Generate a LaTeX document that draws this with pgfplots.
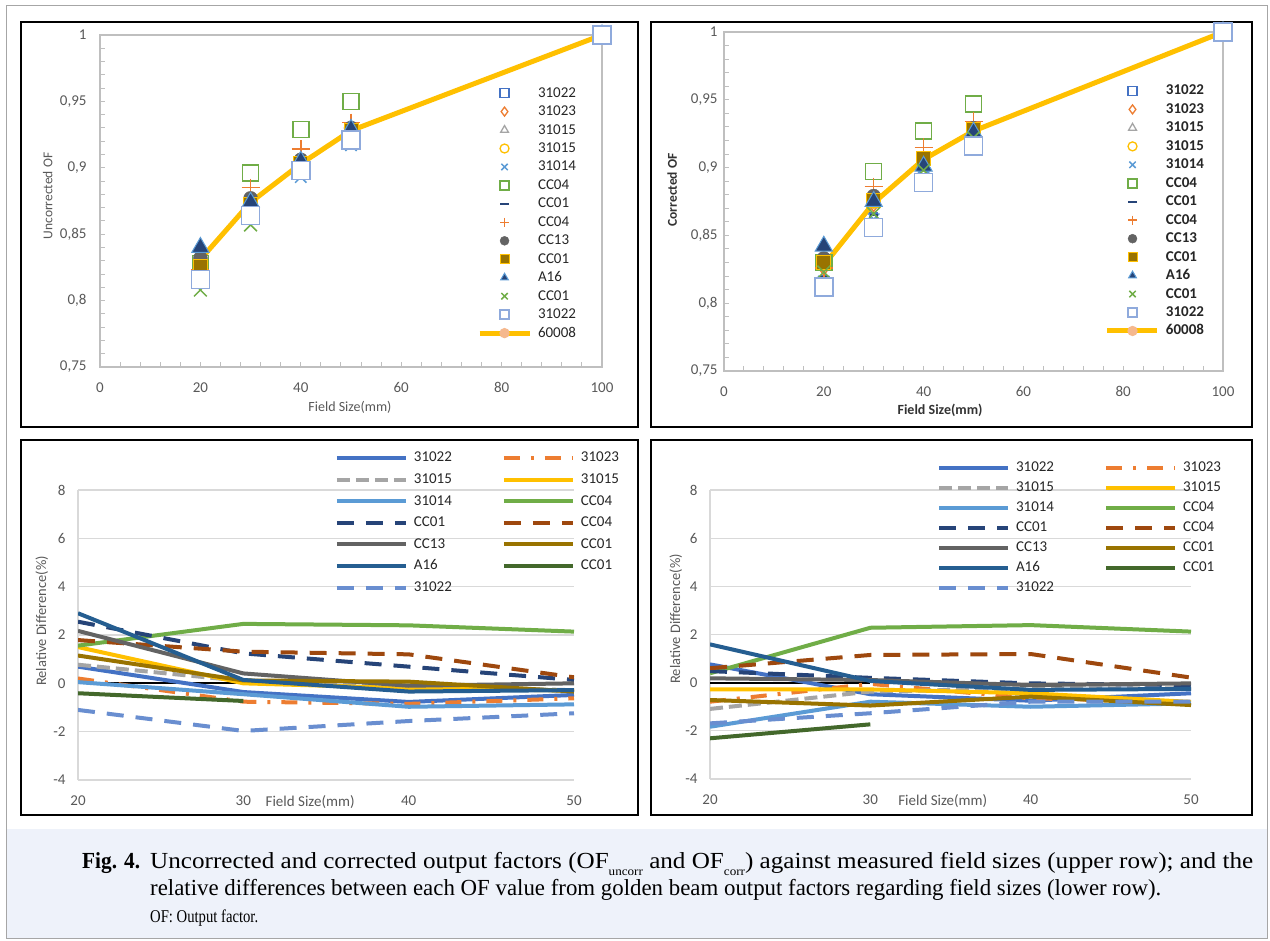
\documentclass[border=0pt]{standalone}
\usepackage{pgfplots}
\pgfplotsset{compat=1.18}
\usepackage{graphicx}
\usepackage{fontspec}
\setmainfont{Carlito}
\newfontfamily\capfont{Liberation Serif}

\definecolor{cA}{HTML}{4472C4}
\definecolor{cB}{HTML}{ED7D31}
\definecolor{cC}{HTML}{A5A5A5}
\definecolor{cD}{HTML}{FFC000}
\definecolor{cE}{HTML}{5B9BD5}
\definecolor{cF}{HTML}{70AD47}
\definecolor{cG}{HTML}{264478}
\definecolor{cH}{HTML}{9E480E}
\definecolor{cI}{HTML}{636363}
\definecolor{cJ}{HTML}{997300}
\definecolor{cK}{HTML}{255E91}
\definecolor{cL}{HTML}{43682B}
\definecolor{cM}{HTML}{698ED0}
\definecolor{sqlt}{HTML}{8FAADC}
\definecolor{gridc}{HTML}{D9D9D9}
\definecolor{axc}{HTML}{BFBFBF}
\definecolor{txt}{HTML}{595959}
\definecolor{capbg}{HTML}{EEF2FA}

\pgfplotsset{
  topax/.style={
    scale only axis, clip=false,
    xmin=0, xmax=100, ymin=0.75, ymax=1,
    xtick={0,20,40,60,80,100}, ytick={0.75,0.8,0.85,0.9,0.95,1},
    minor x tick num=4, minor y tick num=4,
    xtick pos=left, ytick pos=left,
    tick align=inside, major tick length=5pt, minor tick length=5pt,
    tick style={axc, line width=1pt},
    axis line style={axc, line width=1.5pt},
    ticklabel style={font=\fontsize{15}{18}\selectfont, text=txt},
    /pgf/number format/use comma, /pgf/number format/assume math mode=true,
    xticklabel style={yshift=-12pt},
    legend cell align=left,
    legend style={draw=none, fill=none, inner sep=0pt, outer sep=0pt, anchor=north west,
      font=\fontsize{15}{18}\selectfont, text=black!85,
      nodes={inner sep=1pt, text height=11pt, text depth=3pt},
      row sep=2.46pt,
      /tikz/every odd column/.append style={column sep=5pt}},
    legend image post style={mark size=4.5pt},
  },
  botax/.style={
    scale only axis,
    xmin=20, xmax=50, ymin=-4, ymax=8,
    xtick={20,30,40,50}, ytick={-4,-2,0,2,4,6,8},
    ymajorgrids, grid style={gridc, line width=1.3pt},
    axis lines*=left, x axis line style={draw=none}, y axis line style={gridc, line width=1.5pt},
    major tick length=0pt,
    ticklabel style={font=\fontsize{15}{18}\selectfont, text=txt},
    /pgf/number format/assume math mode=true,
    yticklabel style={xshift=-9pt}, xticklabel style={yshift=-12pt},
    legend columns=2, legend cell align=left,
    legend style={draw=none, fill=none, inner sep=0pt, outer sep=0pt, anchor=north west,
      font=\fontsize{15}{18}\selectfont, text=black!85,
      nodes={inner sep=1pt, text height=11pt, text depth=3pt},
      /tikz/every odd column/.append style={column sep=5pt},
      /tikz/every even column/.append style={column sep=49pt}},
    legend image code/.code={\draw[#1] (0pt,0pt) -- (69pt,0pt);},
    every axis plot/.append style={line width=4pt},
    xlabel style={font=\fontsize{15}{18}\selectfont, text=txt, anchor=center},
    ylabel style={font=\fontsize{14.5}{17}\selectfont, text=txt, anchor=center},
  },
  lgline/.style={legend image code/.code={\draw[#1] (-16.5pt,0pt) -- (33.5pt,0pt); \fill[cB!55!white] (8.54pt,0pt) circle (2.5pt);}},
  dd/.style={dash pattern=on 16pt off 11pt on 3pt off 11pt},
  gd/.style={dash pattern=on 13pt off 6pt},
  ld/.style={dash pattern=on 17pt off 12pt},
}

\begin{document}
\begin{tikzpicture}
\useasboundingbox (0,0) rectangle (1270pt,-941pt);
\fill[white] (0,0) rectangle (1270pt,-941pt);
\fill[capbg] (6pt,-829pt) rectangle (1267pt,-938pt);
\draw[gray!70, line width=1pt] (6pt,-6pt) rectangle (1267pt,-938pt);
\draw[black, line width=2.5pt] (21pt,-22pt) rectangle (638pt,-427pt);
\draw[black, line width=2.5pt] (651pt,-22pt) rectangle (1252pt,-427pt);
\draw[black, line width=2.5pt] (21pt,-440pt) rectangle (638pt,-815pt);
\draw[black, line width=2.5pt] (651pt,-440pt) rectangle (1252pt,-815pt);

% ---------------- top left: uncorrected OF
\begin{axis}[topax, at={(100pt,-367pt)}, anchor=south west, width=502pt, height=332pt,
  yticklabel style={xshift=-10pt},
  xlabel={Field Size(mm)}, ylabel={Uncorrected OF},
  xlabel style={at={(axis description cs:0.498,-0.123)}, anchor=center, font=\fontsize{14}{17}\selectfont, text=txt},
  ylabel style={at={(axis description cs:-0.104,0.515)}, anchor=center, font=\fontsize{13.5}{16}\selectfont, text=txt},
  legend style={at={(axis description cs:0.751,0.849)}}]
\addplot[forget plot, cD, line width=5pt] coordinates {(20,0.831)(30,0.874)(40,0.903)(50,0.928)(100,1)};
\addplot[only marks, mark=square*, mark size=3.5pt, mark options={draw=cA, fill=white, line width=1.5pt}] coordinates {(20,0.820)(30,0.866)(40,0.899)(50,0.924)(100,1)};
\addlegendentry{31022}
\addplot[only marks, mark=diamond*, mark size=4.5pt, mark options={draw=cB, fill=white, line width=1.3pt}] coordinates {(20,0.823)(30,0.870)(40,0.902)(50,0.926)(100,1)};
\addlegendentry{31023}
\addplot[only marks, mark=triangle*, mark size=4.5pt, mark options={draw=cC, fill=white, line width=1.3pt}] coordinates {(20,0.828)(30,0.872)(40,0.903)(50,0.927)(100,1)};
\addlegendentry{31015}
\addplot[only marks, mark=*, mark size=4pt, mark options={draw=cD, fill=white, line width=1.3pt}] coordinates {(20,0.829)(30,0.873)(40,0.904)(50,0.928)(100,1)};
\addlegendentry{31015}
\addplot[only marks, mark=x, mark size=8pt, mark options={draw=cE, line width=1.5pt}] coordinates {(20,0.819)(30,0.864)(40,0.893)(50,0.917)(100,1)};
\addlegendentry{31014}
\addplot[only marks, mark=square, mark size=8pt, mark options={draw=cF, line width=1.5pt}] coordinates {(20,0.828)(30,0.896)(40,0.929)(50,0.950)(100,1)};
\addlegendentry{CC04}
\addplot[only marks, mark=-, mark size=4pt, mark options={draw=cG, line width=2pt}] coordinates {(20,0.818)(30,0.866)(40,0.900)(50,0.922)(100,1)};
\addlegendentry{CC01}
\addplot[only marks, mark=+, mark size=9pt, mark options={draw=cB, line width=1.5pt}] coordinates {(20,0.823)(30,0.885)(40,0.914)(50,0.934)(100,1)};
\addlegendentry{CC04}
\addplot[only marks, mark=*, mark size=7pt, mark options={draw=cI, fill=cI}] coordinates {(20,0.832)(30,0.877)(40,0.906)(50,0.930)(100,1)};
\addlegendentry{CC13}
\addplot[only marks, mark=square*, mark size=7pt, mark options={draw=cD, fill=cJ, line width=1pt}] coordinates {(20,0.826)(30,0.872)(40,0.903)(50,0.928)(100,1)};
\addlegendentry{CC01}
\addplot[only marks, mark=triangle*, mark size=10pt, mark options={draw=cE, fill=cG, line width=1pt}] coordinates {(20,0.840)(30,0.874)(40,0.905)(50,0.929)(100,1)};
\addlegendentry{A16}
\addplot[only marks, mark=x, mark size=9pt, mark options={draw=cF, line width=1.5pt}] coordinates {(20,0.808)(30,0.857)(40,0.898)(50,0.920)(100,1)};
\addlegendentry{CC01}
\addplot[only marks, mark=square*, mark size=9pt, mark options={draw=sqlt, fill=white, line width=1.5pt}] coordinates {(20,0.816)(30,0.864)(40,0.898)(50,0.921)(100,1)};
\addlegendentry{31022}
\addlegendimage{cD, line width=5pt, lgline}
\addlegendentry{60008}
\end{axis}

% ---------------- top right: corrected OF
\begin{axis}[topax, at={(724pt,-371pt)}, anchor=south west, width=499pt, height=339pt,
  yticklabel style={xshift=-3pt},
  xlabel={\bfseries Field Size(mm)}, ylabel={\bfseries Corrected OF},
  xlabel style={at={(axis description cs:0.433,-0.115)}, anchor=center, font=\fontsize{14}{17}\selectfont, text=black!80},
  ylabel style={at={(axis description cs:-0.104,0.534)}, anchor=center, font=\fontsize{13.5}{16}\selectfont, text=black!80},
  legend style={at={(axis description cs:0.7635,0.8496)}, font=\fontsize{15}{18}\selectfont\bfseries}]
\addplot[forget plot, cD, line width=5pt] coordinates {(20,0.828)(30,0.874)(40,0.906)(50,0.927)(100,1)};
\addplot[only marks, mark=square*, mark size=3.5pt, mark options={draw=cA, fill=white, line width=1.5pt}] coordinates {(20,0.818)(30,0.864)(40,0.897)(50,0.921)(100,1)};
\addlegendentry{31022}
\addplot[only marks, mark=diamond*, mark size=4.5pt, mark options={draw=cB, fill=white, line width=1.3pt}] coordinates {(20,0.824)(30,0.871)(40,0.903)(50,0.925)(100,1)};
\addlegendentry{31023}
\addplot[only marks, mark=triangle*, mark size=4.5pt, mark options={draw=cC, fill=white, line width=1.3pt}] coordinates {(20,0.826)(30,0.872)(40,0.904)(50,0.926)(100,1)};
\addlegendentry{31015}
\addplot[only marks, mark=*, mark size=4pt, mark options={draw=cD, fill=white, line width=1.3pt}] coordinates {(20,0.827)(30,0.873)(40,0.905)(50,0.927)(100,1)};
\addlegendentry{31015}
\addplot[only marks, mark=x, mark size=8pt, mark options={draw=cE, line width=1.5pt}] coordinates {(20,0.816)(30,0.862)(40,0.893)(50,0.918)(100,1)};
\addlegendentry{31014}
\addplot[only marks, mark=square, mark size=8pt, mark options={draw=cF, line width=1.5pt}] coordinates {(20,0.830)(30,0.897)(40,0.927)(50,0.947)(100,1)};
\addlegendentry{CC04}
\addplot[only marks, mark=-, mark size=4pt, mark options={draw=cG, line width=2pt}] coordinates {(20,0.819)(30,0.865)(40,0.898)(50,0.921)(100,1)};
\addlegendentry{CC01}
\addplot[only marks, mark=+, mark size=9pt, mark options={draw=cB, line width=1.5pt}] coordinates {(20,0.826)(30,0.886)(40,0.915)(50,0.934)(100,1)};
\addlegendentry{CC04}
\addplot[only marks, mark=*, mark size=7pt, mark options={draw=cI, fill=cI}] coordinates {(20,0.833)(30,0.879)(40,0.906)(50,0.929)(100,1)};
\addlegendentry{CC13}
\addplot[only marks, mark=square*, mark size=7pt, mark options={draw=cD, fill=cJ, line width=1pt}] coordinates {(20,0.830)(30,0.876)(40,0.907)(50,0.928)(100,1)};
\addlegendentry{CC01}
\addplot[only marks, mark=triangle*, mark size=10pt, mark options={draw=cE, fill=cG, line width=1pt}] coordinates {(20,0.842)(30,0.875)(40,0.901)(50,0.926)(100,1)};
\addlegendentry{A16}
\addplot[only marks, mark=x, mark size=9pt, mark options={draw=cF, line width=1.5pt}] coordinates {(20,0.823)(30,0.866)(40,0.898)(50,0.922)(100,1)};
\addlegendentry{CC01}
\addplot[only marks, mark=square*, mark size=9pt, mark options={draw=sqlt, fill=white, line width=1.5pt}] coordinates {(20,0.812)(30,0.856)(40,0.889)(50,0.916)(100,1)};
\addlegendentry{31022}
\addlegendimage{cD, line width=5pt, lgline}
\addlegendentry{60008}
\end{axis}

% ---------------- bottom left: relative difference (uncorrected)
\begin{axis}[botax, at={(78pt,-780pt)}, anchor=south west, width=496pt, height=290pt,
  xlabel={Field Size(mm)}, ylabel={Relative Difference(\%)},
  xlabel style={at={(axis description cs:0.468,-0.076)}},
  ylabel style={at={(axis description cs:-0.073,0.548)}},
  legend style={at={(axis description cs:0.518,1.138)}, row sep=5.6pt}]
\addplot[forget plot, black, line width=2pt] coordinates {(20,0)(30,0)};
\addplot[cA] coordinates {(20,0.69)(30,-0.36)(40,-0.77)(50,-0.48)};
\addlegendentry{31022}
\addplot[cB, dd] coordinates {(20,0.2)(30,-0.76)(40,-0.85)(50,-0.62)};
\addlegendentry{31023}
\addplot[cC, gd] coordinates {(20,0.77)(30,0.1)(40,-0.15)(50,-0.28)};
\addlegendentry{31015}
\addplot[cD] coordinates {(20,1.5)(30,0.0)(40,-0.2)(50,-0.3)};
\addlegendentry{31015}
\addplot[cE] coordinates {(20,0.05)(30,-0.45)(40,-0.97)(50,-0.87)};
\addlegendentry{31014}
\addplot[cF] coordinates {(20,1.56)(30,2.46)(40,2.4)(50,2.14)};
\addlegendentry{CC04}
\addplot[cG, ld] coordinates {(20,2.55)(30,1.24)(40,0.69)(50,0.14)};
\addlegendentry{CC01}
\addplot[cH, ld] coordinates {(20,1.79)(30,1.31)(40,1.2)(50,0.25)};
\addlegendentry{CC04}
\addplot[cI] coordinates {(20,2.17)(30,0.41)(40,-0.1)(50,0.0)};
\addlegendentry{CC13}
\addplot[cJ] coordinates {(20,1.15)(30,0.12)(40,0.07)(50,-0.34)};
\addlegendentry{CC01}
\addplot[cK] coordinates {(20,2.9)(30,0.14)(40,-0.34)(50,-0.28)};
\addlegendentry{A16}
\addplot[cL] coordinates {(20,-0.41)(30,-0.73)};
\addlegendentry{CC01}
\addplot[cM, ld] coordinates {(20,-1.1)(30,-1.97)(40,-1.56)(50,-1.24)};
\addlegendentry{31022}
\end{axis}

% ---------------- bottom right: relative difference (corrected)
\begin{axis}[botax, at={(710pt,-779pt)}, anchor=south west, width=481pt, height=289pt,
  xlabel={Field Size(mm)}, ylabel={Relative Difference(\%)},
  xlabel style={at={(axis description cs:0.484,-0.076)}},
  ylabel style={at={(axis description cs:-0.071,0.554)}},
  legend style={at={(axis description cs:0.472,1.104)}, row sep=4pt}]
\addplot[forget plot, black, line width=2pt] coordinates {(20,0)(30,0)};
\addplot[cA] coordinates {(20,0.76)(30,-0.48)(40,-0.75)(50,-0.44)};
\addlegendentry{31022}
\addplot[cB, dd] coordinates {(20,-0.79)(30,-0.05)(40,-0.65)(50,-0.8)};
\addlegendentry{31023}
\addplot[cC, gd] coordinates {(20,-1.09)(30,-0.37)(40,-0.24)(50,-0.24)};
\addlegendentry{31015}
\addplot[cD] coordinates {(20,-0.28)(30,-0.28)(40,-0.44)(50,-0.8)};
\addlegendentry{31015}
\addplot[cE] coordinates {(20,-1.83)(30,-0.79)(40,-1.0)(50,-0.86)};
\addlegendentry{31014}
\addplot[cF] coordinates {(20,0.39)(30,2.28)(40,2.39)(50,2.12)};
\addlegendentry{CC04}
\addplot[cG, ld] coordinates {(20,0.48)(30,0.2)(40,-0.03)(50,-0.1)};
\addlegendentry{CC01}
\addplot[cH, ld] coordinates {(20,0.6)(30,1.15)(40,1.19)(50,0.21)};
\addlegendentry{CC04}
\addplot[cI] coordinates {(20,0.18)(30,0.11)(40,-0.1)(50,-0.03)};
\addlegendentry{CC13}
\addplot[cJ] coordinates {(20,-0.72)(30,-0.95)(40,-0.58)(50,-0.93)};
\addlegendentry{CC01}
\addplot[cK] coordinates {(20,1.59)(30,0.07)(40,-0.3)(50,-0.26)};
\addlegendentry{A16}
\addplot[cL] coordinates {(20,-2.31)(30,-1.73)};
\addlegendentry{CC01}
\addplot[cM, ld] coordinates {(20,-1.69)(30,-1.27)(40,-0.79)(50,-0.79)};
\addlegendentry{31022}
\end{axis}

% ---------------- caption
\node[anchor=base west, inner sep=0pt] at (82pt,-868pt)
  {\resizebox{58pt}{\height}{\capfont\fontsize{23}{27}\selectfont\bfseries Fig. 4.}};
\node[anchor=base west, inner sep=0pt] at (150pt,-868pt)
  {\resizebox{1103pt}{\height}{\capfont\fontsize{23}{27}\selectfont Uncorrected and corrected output factors (OF\raisebox{-7pt}{\fontsize{12}{12}\selectfont uncorr} and OF\raisebox{-7pt}{\fontsize{12}{12}\selectfont corr}) against measured field sizes (upper row); and the}};
\node[anchor=base west, inner sep=0pt] at (150pt,-895pt)
  {\resizebox{1011pt}{\height}{\capfont\fontsize{23}{27}\selectfont relative differences between each OF value from golden beam output factors regarding field sizes (lower row).}};
\node[anchor=base west, inner sep=0pt] at (150pt,-922pt)
  {\resizebox{108pt}{\height}{\capfont\fontsize{18}{21}\selectfont OF: Output factor.}};
\end{tikzpicture}
\end{document}
